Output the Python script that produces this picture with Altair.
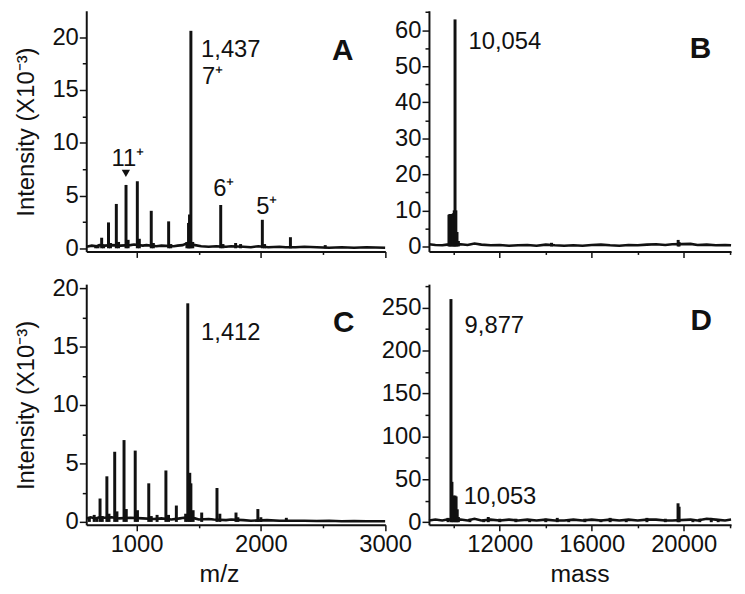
import altair as alt
import pandas as pd

FONT = "Liberation Sans"
INK = "#111111"

# ---------------- Panel A (m/z spectrum, sample 1) ----------------
A_peak_mz = [671, 690, 719, 735, 774, 790, 837, 855, 915, 932, 1006, 1022, 1118, 1135,
             1258, 1275, 1405, 1418, 1426, 1437, 1452, 1677, 1695, 1797, 1837, 2012, 2030, 2238, 2518]
A_peak_I = [0.3, 0.2, 1.0, 0.3, 2.45, 0.5, 4.2, 0.6, 6.0, 0.8, 6.35, 0.9, 3.55, 0.5,
            2.55, 0.4, 0.6, 2.4, 3.2, 20.6, 0.6, 4.1, 0.4, 0.5, 0.4, 2.7, 0.4, 1.05, 0.3]
A_base_mz = [595, 640, 680, 700, 745, 800, 870, 950, 980, 1050, 1080, 1160, 1200, 1300, 1330,
             1370, 1400, 1470, 1520, 1580, 1640, 1720, 1760, 1860, 1920, 1980, 2060, 2150,
             2200, 2280, 2350, 2450, 2550, 2650, 2750, 2850, 3000]
A_base_I = [0.15, 0.25, 0.2, 0.3, 0.25, 0.3, 0.25, 0.3, 0.35, 0.25, 0.3, 0.2, 0.25, 0.2, 0.25,
            0.3, 0.45, 0.3, 0.2, 0.15, 0.2, 0.15, 0.2, 0.15, 0.1, 0.2, 0.1, 0.15,
            0.1, 0.1, 0.15, 0.1, 0.05, 0.1, 0.05, 0.1, 0.05]
A_notes_left = ["1,437", "7⁺"]
A_notes_left_x = [1519, 1527]
A_notes_left_y = [18.1, 15.6]
A_notes_center = ["11⁺", "6⁺", "5⁺"]
A_notes_center_x = [929, 1702, 2048]
A_notes_center_y = [7.8, 4.98, 3.26]
A_marker_x = [914]
A_marker_y = [7.1]

# ---------------- Panel B (deconvoluted mass, sample 1) ----------------
B_peak_m = [9790, 9830, 9877, 9930, 9980, 10020, 10054, 10090, 10140, 10200, 14250, 19760, 19800]
B_peak_I = [8.8, 9.0, 9.0, 8.8, 9.2, 10.0, 63.0, 10.0, 4.0, 1.5, 1.0, 1.8, 1.2]
B_base_m = [8920, 9200, 9500, 9700, 10300, 10600, 10900, 11200, 11600, 12000, 12400, 12800,
            13200, 13600, 14000, 14400, 14800, 15200, 15600, 16000, 16400, 16800, 17200,
            17600, 18000, 18400, 18800, 19200, 19500, 20300, 20600, 21000, 21400, 21800, 22060]
B_base_I = [0.6, 0.4, 0.3, 0.5, 0.6, 0.4, 0.8, 0.5, 0.3, 0.4, 0.2, 0.3, 0.4, 0.2, 0.5, 0.3,
            0.2, 0.3, 0.2, 0.4, 0.5, 0.3, 0.2, 0.4, 0.3, 0.5, 0.6, 0.4, 0.6, 0.7, 0.4, 0.5,
            0.3, 0.4, 0.3]
B_notes_left = ["10,054"]
B_notes_left_x = [10643]
B_notes_left_y = [54.7]

# ---------------- Panel C (m/z spectrum, sample 2) ----------------
C_peak_mz = [620, 659, 680, 706, 724, 761, 778, 824, 842, 899, 917, 989, 1007, 1098, 1118,
             1165, 1236, 1257, 1320, 1395, 1412, 1428, 1437, 1455, 1524, 1647, 1670, 1800,
             1815, 1976, 2000, 2205, 2470]
C_peak_I = [0.4, 0.6, 0.4, 2.0, 0.5, 3.9, 0.7, 6.0, 0.9, 7.0, 1.1, 6.1, 1.0, 3.3, 0.5,
            0.6, 4.4, 0.6, 1.4, 0.7, 18.7, 4.2, 3.3, 1.0, 0.8, 2.9, 0.7, 0.8,
            0.4, 1.1, 0.4, 0.35, 0.15]
C_base_mz = [595, 630, 670, 700, 740, 800, 860, 950, 1050, 1140, 1200, 1280, 1350, 1380,
             1470, 1500, 1580, 1620, 1720, 1760, 1860, 1920, 2050, 2150, 2250, 2350, 2450,
             2550, 2650, 2750, 2850, 3000]
C_base_I = [0.3, 0.4, 0.3, 0.4, 0.35, 0.4, 0.3, 0.35, 0.3, 0.25, 0.3, 0.2, 0.3, 0.35,
            0.3, 0.2, 0.25, 0.2, 0.15, 0.2, 0.15, 0.1, 0.15, 0.1, 0.1, 0.1, 0.08, 0.1,
            0.05, 0.08, 0.05, 0.05]
C_notes_left = ["1,412"]
C_notes_left_x = [1519]
C_notes_left_y = [15.6]

# ---------------- Panel D (deconvoluted mass, sample 2) ----------------
D_peak_m = [9750, 9877, 9920, 9980, 10053, 10100, 10150, 10200, 10700, 11300, 11500, 12000,
            12700, 13300, 14000, 14500, 15000, 15700, 16400, 16800, 17500, 18400, 19200,
            19754, 19800, 20400, 20700, 21200, 21500]
D_peak_I = [5, 260, 47, 31, 31, 30, 15, 6, 4, 3, 6, 4, 4, 3, 4, 5, 3, 4, 3, 5, 3, 5, 4,
            22, 18, 3, 4, 5, 3]
D_base_m = [8920, 9200, 9500, 9700, 10300, 10600, 10900, 11200, 11600, 12000, 12400, 12800,
            13200, 13600, 14000, 14400, 14800, 15200, 15600, 16000, 16400, 16800, 17200,
            17600, 18000, 18400, 18800, 19200, 19500, 20300, 20600, 21000, 21400, 21800, 22060]
D_base_I = [2, 3, 2, 3, 3, 2, 4, 2, 3, 2, 3, 2, 3, 2, 3, 2, 2, 3, 2, 3, 2, 3, 2, 3, 2, 3,
            3, 2, 2, 3, 2, 4, 3, 2, 3]
D_notes_left = ["9,877", "10,053"]
D_notes_left_x = [10471, 10428]
D_notes_left_y = [220.8, 21.1]

W_LEFT, W_RIGHT, H = 302, 305, 243


def panel(peak_x, peak_y, base_x, base_y, xdom, ydom, xmaj, xmin_, ymaj, ymin_, width,
          show_xlabels, ytitle, xtitle, xtitle_x, notes_left, notes_center, marker,
          letter, letter_xy):
    xs = alt.Scale(domain=xdom, nice=False, zero=False)
    ys = alt.Scale(domain=ydom, nice=False, zero=False)

    xaxis_kw = dict(orient="bottom", values=xmaj, labels=show_xlabels, format="d",
                    tickSize=6, labelPadding=2, labelFlush=False, labelOverlap=False,
                    labelFontSize=24)
    if xtitle:
        xaxis_kw.update(titleX=xtitle_x, titleY=57, titleBaseline="alphabetic",
                        titleFontSize=25, titleAlign="center")
    yaxis_kw = dict(orient="left", values=ymaj, format="d", tickSize=7, labelPadding=1,
                    labelFlush=False, labelOverlap=False, labelFontSize=24)
    if ytitle:
        yaxis_kw.update(titleX=-53, titleY=122, titleBaseline="alphabetic",
                        titleFontSize=24, titleAlign="center")

    base_df = pd.DataFrame({"x": base_x, "y": base_y})
    peak_df = pd.DataFrame({"x": peak_x, "y": peak_y})

    base = alt.Chart(base_df).mark_line(color=INK, strokeWidth=2.6).encode(
        x=alt.X("x:Q", scale=xs, axis=alt.Axis(**xaxis_kw), title=xtitle if xtitle else None),
        y=alt.Y("y:Q", scale=ys, axis=alt.Axis(**yaxis_kw), title=ytitle if ytitle else None),
    )
    peaks = alt.Chart(peak_df).mark_rule(color=INK, strokeWidth=3).encode(
        x=alt.X("x:Q", scale=xs, title=None,
                axis=alt.Axis(orient="bottom", values=xmin_, labels=False, domain=False,
                              tickSize=3)),
        y=alt.Y("y:Q", scale=ys, title=None,
                axis=alt.Axis(orient="left", values=ymin_, labels=False, domain=False,
                              tickSize=4)),
        y2=alt.datum(0),
    )
    layers = [base, peaks]

    nl_df = pd.DataFrame({"x": notes_left[1], "y": notes_left[2], "t": notes_left[0]})
    layers.append(
        alt.Chart(nl_df).mark_text(align="left", baseline="alphabetic", font=FONT,
                                   fontSize=24, color=INK).encode(
            x=alt.X("x:Q", scale=xs, axis=None), y=alt.Y("y:Q", scale=ys, axis=None),
            text="t:N")
    )
    if notes_center:
        nc_df = pd.DataFrame({"x": notes_center[1], "y": notes_center[2], "t": notes_center[0]})
        layers.append(
            alt.Chart(nc_df).mark_text(align="center", baseline="alphabetic", font=FONT,
                                       fontSize=24, color=INK).encode(
                x=alt.X("x:Q", scale=xs, axis=None), y=alt.Y("y:Q", scale=ys, axis=None),
                text="t:N")
        )
    if marker:
        mk_df = pd.DataFrame({"x": marker[0], "y": marker[1]})
        layers.append(
            alt.Chart(mk_df).mark_point(shape="triangle-down", filled=True, size=70,
                                        color=INK, opacity=1).encode(
                x=alt.X("x:Q", scale=xs, axis=None), y=alt.Y("y:Q", scale=ys, axis=None))
        )
    lt_df = pd.DataFrame({"t": [letter]})
    layers.append(
        alt.Chart(lt_df).mark_text(align="center", baseline="alphabetic", font=FONT,
                                   fontSize=30, fontWeight="bold", color=INK).encode(
            x=alt.value(letter_xy[0]), y=alt.value(letter_xy[1]), text="t:N")
    )
    return alt.layer(*layers).resolve_axis(x="independent", y="independent").properties(
        width=width, height=H)


pA = panel(A_peak_mz, A_peak_I, A_base_mz, A_base_I, [595, 3002], [-0.3, 22.5],
           [1000, 2000, 3000], [1500, 2500], [0, 5, 10, 15, 20], [2.5, 7.5, 12.5, 17.5],
           W_LEFT, False, "Intensity (X10⁻³)", None, 0,
           (A_notes_left, A_notes_left_x, A_notes_left_y),
           (A_notes_center, A_notes_center_x, A_notes_center_y),
           (A_marker_x, A_marker_y), "A", (259, 50))
pB = panel(B_peak_m, B_peak_I, B_base_m, B_base_I, [8920, 22060], [-1.4, 65.4],
           [12000, 16000, 20000], [10000, 14000, 18000, 22000],
           [0, 10, 20, 30, 40, 50, 60], [5, 15, 25, 35, 45, 55, 65],
           W_RIGHT, False, None, None, 0,
           (B_notes_left, B_notes_left_x, B_notes_left_y), None, None, "B", (274, 48))
pC = panel(C_peak_mz, C_peak_I, C_base_mz, C_base_I, [595, 3002], [-0.25, 20.34],
           [1000, 2000, 3000], [1500, 2500], [0, 5, 10, 15, 20], [2.5, 7.5, 12.5, 17.5],
           W_LEFT, True, "Intensity (X10⁻³)", "m/z", 134,
           (C_notes_left, C_notes_left_x, C_notes_left_y), None, None, "C", (260, 48))
pD = panel(D_peak_m, D_peak_I, D_base_m, D_base_I, [8920, 22060], [-3.1, 277.4],
           [12000, 16000, 20000], [10000, 14000, 18000, 22000],
           [0, 50, 100, 150, 200, 250], [25, 75, 125, 175, 225, 275],
           W_RIGHT, True, None, "mass", 152,
           (D_notes_left, D_notes_left_x, D_notes_left_y), None, None, "D", (275, 46))

chart = alt.concat(pA, pB, pC, pD, columns=2, spacing={"row": 33, "column": 44},
                   bounds="flush").properties(
    padding={"left": 6, "top": 0, "right": 0, "bottom": 0},
    background="white",
).configure_view(stroke=None).configure_axis(
    grid=False, domainColor=INK, domainWidth=2, tickColor=INK, tickWidth=1.5,
    labelColor=INK, labelFont=FONT, titleFont=FONT, titleFontWeight="normal",
    titleColor=INK,
)

chart.save("out.html", embed_options={"renderer": "svg", "actions": False})
